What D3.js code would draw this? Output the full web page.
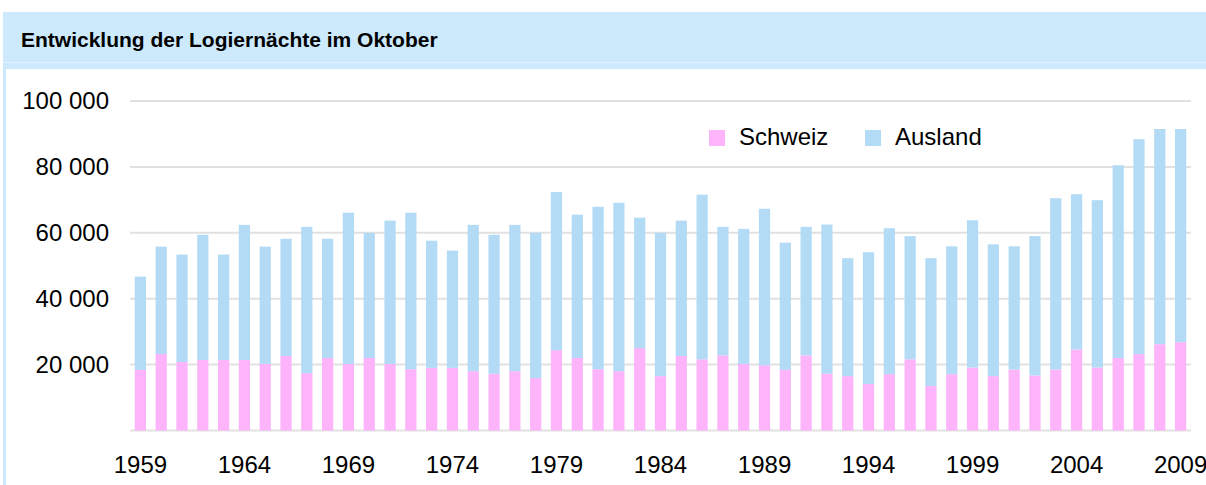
<!DOCTYPE html>
<html>
<head>
<meta charset="utf-8">
<script src="https://cdn.jsdelivr.net/npm/d3@7"></script>
<style>
  html, body { margin: 0; padding: 0; background: #fff; }
  svg { display: block; }
  text { font-family: "Liberation Sans", Arial, Helvetica, sans-serif; fill: #000; }
</style>
</head>
<body>
<svg id="chart" width="1206" height="485"></svg>
<script>
const title = "Entwicklung der Logiernächte im Oktober";
const years = d3.range(1959, 2010);
const schweiz = [18400, 23200, 20800, 21400, 21400, 21400, 20200, 22600, 17400, 22000,
                 20200, 22000, 20200, 18600, 19000, 19000, 18000, 17200, 18000, 15900,
                 24400, 22000, 18600, 18000, 25000, 16500, 22600, 21600, 22800, 20200,
                 19800, 18400, 22800, 17200, 16500, 14100, 17100, 21600, 13500, 17100,
                 19100, 16500, 18500, 16700, 18500, 24600, 19100, 22000, 23200, 26200,
                 26800];
const ausland = [28300, 32600, 32600, 38000, 32000, 41000, 35600, 35600, 44400, 36200,
                 45900, 38000, 43500, 47500, 38600, 35600, 44400, 42200, 44400, 44100,
                 48000, 43500, 49300, 51100, 39600, 43500, 41100, 50000, 39000, 41000,
                 47500, 38600, 39000, 45300, 35800, 40000, 44300, 37400, 38800, 38800,
                 44700, 40000, 37400, 42300, 52000, 47100, 50800, 58500, 65200, 65300,
                 64700];
const seriesNames = ["Schweiz", "Ausland"];
const colors = ["#fdb4fb", "#b4dbf5"];
const yTicks = [20000, 40000, 60000, 80000, 100000];
const gridValues = [0, 20000, 40000, 60000, 80000, 100000];
const xTickYears = [1959, 1964, 1969, 1974, 1979, 1984, 1989, 1994, 1999, 2004, 2009];

const svg = d3.select("#chart");

// panel: header + left border
svg.append("rect").attr("x", 3).attr("y", 12).attr("width", 1203).attr("height", 57).attr("fill", "#cceafc");
svg.append("line").attr("x1", 3).attr("x2", 1206).attr("y1", 62.5).attr("y2", 62.5)
  .attr("stroke", "#dff2fd").attr("stroke-width", 1);
svg.append("rect").attr("x", 3).attr("y", 69).attr("width", 3).attr("height", 416).attr("fill", "#cceafc");
svg.append("text").attr("x", 21).attr("y", 46.5).attr("font-size", 21).attr("font-weight", "bold").text(title);

const x = d3.scaleBand().domain(years).range([130, 1191]).paddingInner(0.46).paddingOuter(0.23);
const y = d3.scaleLinear().domain([0, 100000]).range([430.5, 101]);

// gridlines
svg.append("g").selectAll("line").data(gridValues).join("line")
  .attr("x1", 130).attr("x2", 1191)
  .attr("y1", d => y(d)).attr("y2", d => y(d))
  .attr("stroke", "#e1e1e1").attr("stroke-width", 2);

// stacked bars
const rows = years.map((yr, i) => ({ year: yr, Schweiz: schweiz[i], Ausland: ausland[i] }));
const stack = d3.stack().keys(seriesNames)(rows);
svg.append("g").selectAll("g").data(stack).join("g")
  .attr("fill", (d, i) => colors[i])
  .selectAll("rect").data(d => d).join("rect")
  .attr("x", d => x(d.data.year))
  .attr("width", x.bandwidth())
  .attr("y", d => y(d[1]))
  .attr("height", d => y(d[0]) - y(d[1]));

// y axis labels
const fmt = d3.formatLocale({ decimal: ".", thousands: " ", grouping: [3], currency: ["", ""] }).format(",");
const yAxis = d3.axisLeft(y).tickValues(yTicks).tickFormat(fmt).tickSize(0).tickPadding(0);
const gy = svg.append("g").attr("transform", "translate(109,0)").call(yAxis);
gy.select(".domain").remove();
gy.selectAll("text").attr("font-size", 24).attr("font-family", "Liberation Sans, Arial, sans-serif").attr("fill", "#000").attr("dy", "0.33em");

// x axis labels
const xAxis = d3.axisBottom(x).tickValues(xTickYears).tickSize(0).tickPadding(0);
const gx = svg.append("g").attr("transform", "translate(0,456)").call(xAxis);
gx.select(".domain").remove();
gx.selectAll("text").attr("font-size", 24).attr("font-family", "Liberation Sans, Arial, sans-serif").attr("fill", "#000").attr("dy", "0.71em");

// legend
const legendX = [709, 865];
const lg = svg.append("g").selectAll("g").data(seriesNames).join("g")
  .attr("transform", (d, i) => `translate(${legendX[i]},130)`);
lg.append("rect").attr("width", 16).attr("height", 16).attr("fill", (d, i) => colors[i]);
lg.append("text").attr("x", 30).attr("y", 14.5).attr("font-size", 24).text(d => d);
</script>
</body>
</html>
